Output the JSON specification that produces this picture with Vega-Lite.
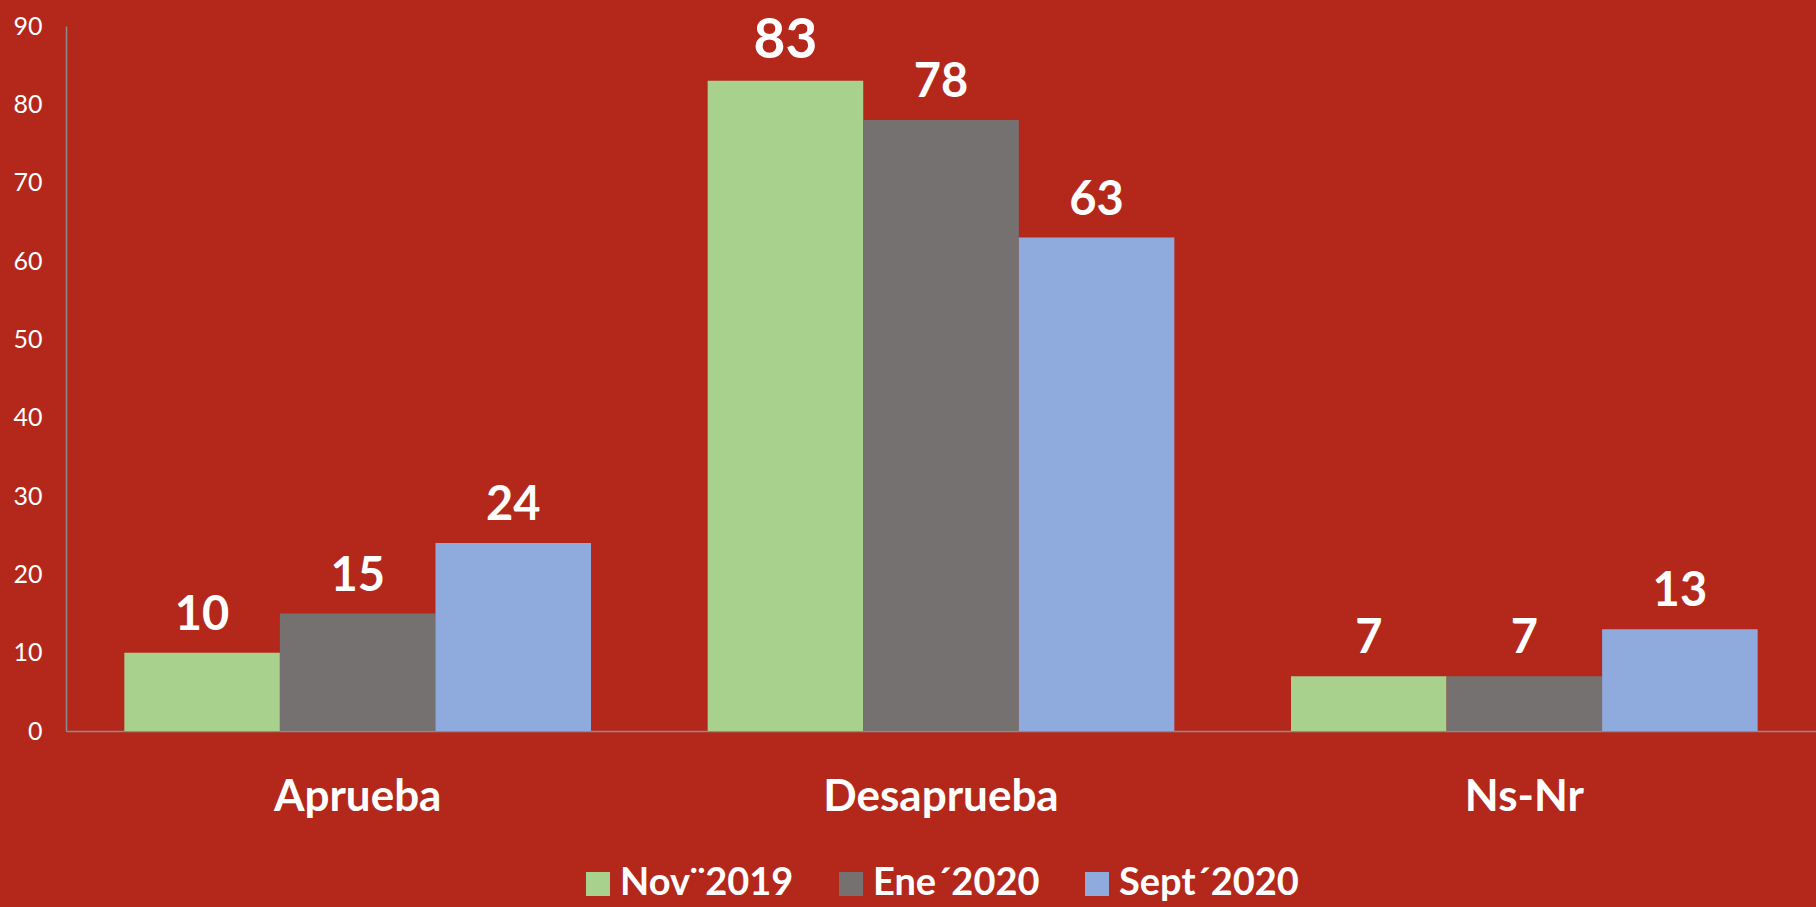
{
  "$schema": "https://vega.github.io/schema/vega-lite/v6.json",
  "width": 1750,
  "height": 705,
  "autosize": {"type": "none"},
  "padding": {"left": 66, "top": 26, "right": 0, "bottom": 176},
  "background": "#B3281B",
  "config": {"view": {"stroke": null}, "font": "Lato"},
  "data": {
    "values": [
      {"category": "Aprueba", "period": "Nov¨2019", "value": 10},
      {"category": "Aprueba", "period": "Ene´2020", "value": 15},
      {"category": "Aprueba", "period": "Sept´2020", "value": 24},
      {"category": "Desaprueba", "period": "Nov¨2019", "value": 83},
      {"category": "Desaprueba", "period": "Ene´2020", "value": 78},
      {"category": "Desaprueba", "period": "Sept´2020", "value": 63},
      {"category": "Ns-Nr", "period": "Nov¨2019", "value": 7},
      {"category": "Ns-Nr", "period": "Ene´2020", "value": 7},
      {"category": "Ns-Nr", "period": "Sept´2020", "value": 13}
    ]
  },
  "encoding": {
    "x": {
      "field": "category",
      "type": "nominal",
      "sort": ["Aprueba", "Desaprueba", "Ns-Nr"],
      "scale": {"paddingInner": 0.2, "paddingOuter": 0.1},
      "axis": {
        "title": null,
        "labelAngle": 0,
        "ticks": false,
        "domainColor": "#8C8C8C",
        "domainWidth": 1.5,
        "labelColor": "#FFFFFF",
        "labelFontSize": 44,
        "labelFontWeight": "bold",
        "labelPadding": 44,
        "labelLimit": 600
      }
    },
    "xOffset": {
      "field": "period",
      "type": "nominal",
      "sort": ["Nov¨2019", "Ene´2020", "Sept´2020"],
      "scale": {"paddingInner": 0, "paddingOuter": 0}
    },
    "y": {
      "field": "value",
      "type": "quantitative",
      "scale": {"domain": [0, 90], "nice": false},
      "axis": {
        "title": null,
        "values": [0, 10, 20, 30, 40, 50, 60, 70, 80, 90],
        "grid": false,
        "ticks": false,
        "domainColor": "#8C8C8C",
        "domainWidth": 1.5,
        "labelColor": "#FFFFFF",
        "labelFontSize": 25,
        "labelPadding": 24
      }
    }
  },
  "layer": [
    {
      "mark": {"type": "bar"},
      "encoding": {
        "color": {
          "field": "period",
          "type": "nominal",
          "sort": ["Nov¨2019", "Ene´2020", "Sept´2020"],
          "scale": {
            "domain": ["Nov¨2019", "Ene´2020", "Sept´2020"],
            "range": ["#A9D18E", "#767171", "#8FAADC"]
          },
          "legend": {
            "title": null,
            "orient": "none",
            "direction": "horizontal",
            "legendX": 513,
            "legendY": 839,
            "symbolType": "square",
            "symbolSize": 576,
            "symbolStrokeWidth": 0,
            "labelColor": "#FFFFFF",
            "labelFontSize": 38,
            "labelFontWeight": "bold",
            "labelOffset": 3,
            "columnPadding": 38,
            "labelLimit": 400
          }
        }
      }
    },
    {
      "mark": {"type": "text", "color": "#FFFFFF", "fontWeight": "bold", "baseline": "alphabetic", "dy": -23},
      "encoding": {
        "text": {"field": "value", "type": "quantitative"},
        "size": {"condition": {"test": "datum.value == 83", "value": 55}, "value": 47}
      }
    }
  ]
}
